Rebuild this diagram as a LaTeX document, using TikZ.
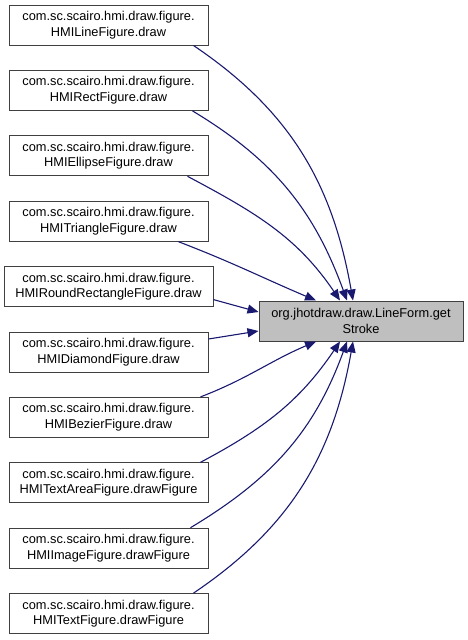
\documentclass[tikz,border=0pt]{standalone}
\usepackage{fontspec}
\setmainfont{Liberation Sans}
\usetikzlibrary{arrows.meta}
\definecolor{edgeblue}{RGB}{25,25,112}

\begin{document}
\begin{tikzpicture}[
  x=1pt,y=-1pt,
  font=\fontsize{12.8}{15.5}\selectfont,
  box/.style={draw=black!75,line width=1pt,minimum width=199pt,minimum height=40pt,align=center,inner sep=2pt},
  root/.style={box,fill=black!25,minimum width=204pt},
  call/.style={draw=edgeblue,line width=1.1pt,-{Triangle[length=11pt,width=9pt]}}
]
\useasboundingbox (0,0) rectangle (468,640);
% ---------------- callers ----------------
\node[box] (c1) at (108.5,25) {com.sc.scairo.hmi.draw.figure.\\HMILineFigure.draw};
\node[box] (c2) at (108.5,90.4) {com.sc.scairo.hmi.draw.figure.\\HMIRectFigure.draw};
\node[box] (c3) at (108.5,155.8) {com.sc.scairo.hmi.draw.figure.\\HMIEllipseFigure.draw};
\node[box] (c4) at (108.5,221.2) {com.sc.scairo.hmi.draw.figure.\\HMITriangleFigure.draw};
\node[box,minimum width=209pt] (c5) at (108.5,286.6) {com.sc.scairo.hmi.draw.figure.\\HMIRoundRectangleFigure.draw};
\node[box] (c6) at (108.5,352) {com.sc.scairo.hmi.draw.figure.\\HMIDiamondFigure.draw};
\node[box] (c7) at (108.5,417.4) {com.sc.scairo.hmi.draw.figure.\\HMIBezierFigure.draw};
\node[box] (c8) at (108.5,482.8) {com.sc.scairo.hmi.draw.figure.\\HMITextAreaFigure.drawFigure};
\node[box] (c9) at (108.5,548.2) {com.sc.scairo.hmi.draw.figure.\\HMIImageFigure.drawFigure};
\node[box] (c10) at (108.5,613.6) {com.sc.scairo.hmi.draw.figure.\\HMITextFigure.drawFigure};

% ---------------- callee ----------------
\node[root] (gs) at (361,321) {org.jhotdraw.draw.LineForm.get\\Stroke};

% ---------------- calls ----------------
\draw[call] ([xshift=-15pt]c1.south east) to[out=-34,in=100] ([xshift=-8pt]gs.north);
\draw[call] ([xshift=-16pt]c2.south east) to[out=-31,in=110] ([xshift=-14pt]gs.north);
\draw[call] ([xshift=-21pt]c3.south east) to[out=-28,in=124] ([xshift=-21pt]gs.north);
\draw[call] ([xshift=-30pt]c4.south east) to[out=-21,in=157] ([xshift=-45pt]gs.north);
\draw[call] ([yshift=-13pt]c5.east) -- ([yshift=9pt]gs.west);
\draw[call] ([yshift=13pt]c6.east) -- ([yshift=-10pt]gs.west);
\draw[call] ([xshift=-8pt]c7.north east) to[out=21,in=-157] ([xshift=-45pt]gs.south);
\draw[call] ([xshift=-8pt]c8.north east) to[out=28,in=-124] ([xshift=-21pt]gs.south);
\draw[call] ([xshift=-18pt]c9.north east) to[out=31,in=-110] ([xshift=-14pt]gs.south);
\draw[call] ([xshift=-15pt]c10.north east) to[out=34,in=-100] ([xshift=-8pt]gs.south);
\end{tikzpicture}
\end{document}
